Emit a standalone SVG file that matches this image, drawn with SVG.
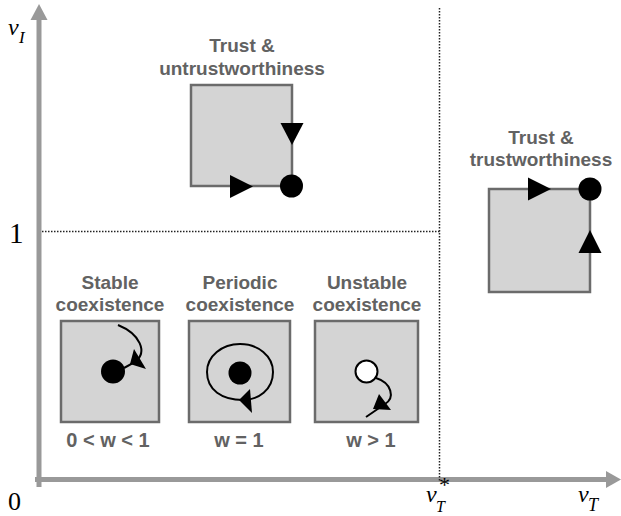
<svg xmlns="http://www.w3.org/2000/svg" width="621" height="516" viewBox="0 0 621 516">
<style>
.box{fill:#d4d4d4;stroke:#6b6b6b;stroke-width:2.5}
.lbl{font-family:"Liberation Sans",Arial,sans-serif;font-weight:bold;font-size:19px;fill:#626262;text-anchor:middle}
.sub{font-family:"Liberation Sans",Arial,sans-serif;font-weight:bold;font-size:20px;fill:#626262;text-anchor:middle}
.math{font-family:"Liberation Serif","Times New Roman",serif;fill:#000}
.axis{stroke:#999;stroke-width:5;fill:none}
.dot{stroke:#222;stroke-width:1.5;stroke-dasharray:1.5,1.5;fill:none}
.traj{stroke:#000;stroke-width:2;fill:none}
</style>
<rect width="621" height="516" fill="#fff"/>
<g id="axes">
<line class="axis" x1="39" y1="487" x2="39" y2="18"/>
<polygon points="39,4 30.5,20 47.5,20" fill="#999"/>
<line class="axis" x1="35" y1="479.5" x2="608" y2="479.5"/>
<polygon points="621,479.5 606,471 606,488" fill="#999"/>
<line class="dot" x1="42" y1="231.5" x2="440" y2="231.5"/>
<line class="dot" x1="439.5" y1="8" x2="439.5" y2="482"/>
<text class="math" x="8" y="35" font-size="24" font-style="italic">v</text>
<text class="math" x="19" y="43" font-size="17" font-style="italic">I</text>
<text class="math" x="9" y="243" font-size="29">1</text>
<text class="math" x="8" y="510" font-size="26">0</text>
<text class="math" x="426" y="502" font-size="24" font-style="italic">v</text>
<text class="math" x="439" y="492" font-size="22">*</text>
<text class="math" x="436" y="512" font-size="16" font-style="italic">T</text>
<text class="math" x="578" y="502" font-size="24" font-style="italic">v</text>
<text class="math" x="588" y="511" font-size="18" font-style="italic">T</text>
</g>
<g id="node-untrust">
<text class="lbl" x="242" y="52">Trust &amp;</text>
<text class="lbl" x="242" y="75">untrustworthiness</text>
<rect class="box" x="191" y="85" width="101" height="101"/>
<polygon points="280.5,123 303.5,123 292,145"/>
<polygon points="230,175 230,198 253,186.5"/>
<circle cx="291.5" cy="186" r="11.5"/>
</g>
<g id="node-trust">
<text class="lbl" x="541" y="144">Trust &amp;</text>
<text class="lbl" x="541" y="166">trustworthiness</text>
<rect class="box" x="489" y="189" width="101" height="103"/>
<polygon points="528,177.5 528,200.5 551,189"/>
<polygon points="578.5,253 601.5,253 590,230"/>
<circle cx="590" cy="189" r="11.5"/>
</g>
<g id="node-stable">
<text class="lbl" x="110" y="288.5">Stable</text>
<text class="lbl" x="110" y="310.5">coexistence</text>
<rect class="box" x="61" y="321" width="98" height="101"/>
<circle cx="113" cy="371.5" r="12"/>
<path class="traj" d="M118,325 C140,334 148,352 135,362 L124,368"/>
<polygon points="134,349 146,369 130,364"/>
<text class="sub" x="108" y="446.5">0 &lt; w &lt; 1</text>
</g>
<g id="node-periodic">
<text class="lbl" x="240" y="288.5">Periodic</text>
<text class="lbl" x="240" y="310.5">coexistence</text>
<rect class="box" x="189" y="321" width="101" height="101"/>
<path class="traj" d="M243,400 C222,400 207,390 207,372 C207,356 222,344 240,344 C258,344 273,356 273,372 C273,390 258,400 243,400"/>
<polygon points="250,389 239,400 252,413"/>
<circle cx="240" cy="373" r="11.5"/>
<text class="sub" x="239" y="446.5">w = 1</text>
</g>
<g id="node-unstable">
<text class="lbl" x="367" y="288.5">Unstable</text>
<text class="lbl" x="367" y="310.5">coexistence</text>
<rect class="box" x="315" y="321" width="103" height="101"/>
<path class="traj" d="M376,378 C392,383 395,398 385,404 L366,417"/>
<polygon points="379,394 391,410 373,409"/>
<circle cx="366.5" cy="371.5" r="11" fill="#fff" stroke="#000" stroke-width="2"/>
<text class="sub" x="371" y="446.5">w &gt; 1</text>
</g>
<g id="connectors"></g>
</svg>
